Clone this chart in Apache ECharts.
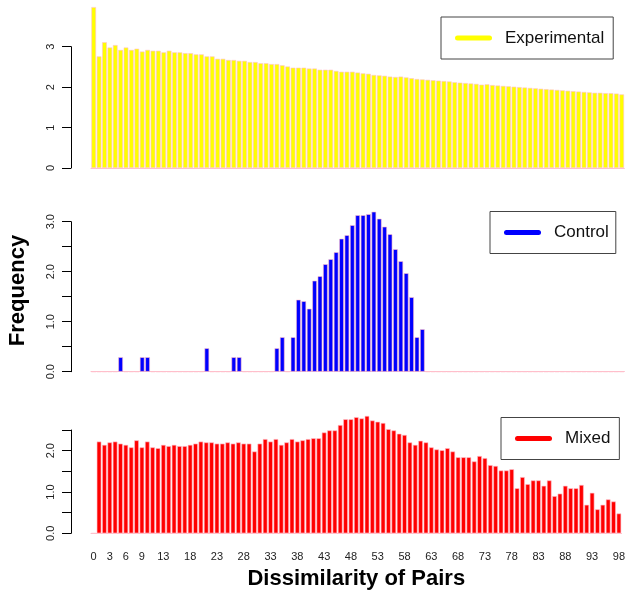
<!DOCTYPE html>
<html>
<head>
<meta charset="utf-8">
<script src="https://cdn.jsdelivr.net/npm/echarts@6/dist/echarts.min.js"></script>
<style>
html,body{margin:0;padding:0;background:#fff;}
#chart{width:628px;height:595px;}
</style>
</head>
<body>
<div id="chart"></div>
<script>
// ---------- DATA ----------
const categories = ['0','1','2','3','4','5','6','7','8','9','10','11','12','13','14','15','16','17','18','19',
  '20','21','22','23','24','25','26','27','28','29','30','31','32','33','34','35','36','37','38','39',
  '40','41','42','43','44','45','46','47','48','49','50','51','52','53','54','55','56','57','58','59',
  '60','61','62','63','64','65','66','67','68','69','70','71','72','73','74','75','76','77','78','79',
  '80','81','82','83','84','85','86','87','88','89','90','91','92','93','94','95','96','97','98'];

const xTickLabels = ['0','3','6','9','13','18','23','28','33','38','43','48','53','58','63','68','73','78','83','88','93','98'];

const experimental = [3.98,2.76,3.11,2.98,3.04,2.92,2.98,2.92,2.95,2.88,
  2.92,2.90,2.90,2.86,2.90,2.86,2.86,2.84,2.84,2.81,
  2.81,2.76,2.76,2.70,2.70,2.67,2.67,2.65,2.65,2.62,
  2.62,2.59,2.59,2.57,2.57,2.54,2.51,2.48,2.48,2.48,
  2.46,2.46,2.43,2.43,2.43,2.40,2.38,2.38,2.38,2.36,
  2.34,2.33,2.30,2.29,2.28,2.26,2.25,2.26,2.24,2.22,
  2.20,2.19,2.18,2.17,2.16,2.15,2.14,2.12,2.11,2.10,
  2.09,2.08,2.06,2.07,2.05,2.04,2.03,2.02,2.01,2.00,
  1.99,1.98,1.97,1.96,1.95,1.94,1.93,1.92,1.91,1.90,
  1.89,1.88,1.87,1.86,1.86,1.85,1.85,1.84,1.82];

const control = [0,0,0,0,0,0.29,0,0,0,0.29,
  0.29,0,0,0,0,0,0,0,0,0,
  0,0.47,0,0,0,0,0.29,0.29,0,0,
  0,0,0,0,0.47,0.69,0,0.69,1.44,1.41,
  1.26,1.82,1.91,2.15,2.25,2.39,2.66,2.73,2.93,3.13,
  3.13,3.15,3.20,3.06,2.90,2.75,2.45,2.21,1.97,1.49,
  0.69,0.85,0,0,0,0,0,0,0,0,
  0,0,0,0,0,0,0,0,0,0,
  0,0,0,0,0,0,0,0,0,0,
  0,0,0,0,0,0,0,0,0];

const mixed = [0,2.22,2.14,2.20,2.22,2.17,2.14,2.08,2.25,2.08,
  2.22,2.08,2.06,2.14,2.11,2.14,2.11,2.11,2.14,2.17,
  2.22,2.20,2.20,2.17,2.17,2.20,2.17,2.20,2.17,2.17,
  1.98,2.17,2.28,2.22,2.28,2.14,2.20,2.28,2.22,2.25,
  2.28,2.30,2.30,2.44,2.49,2.49,2.62,2.76,2.76,2.81,
  2.78,2.84,2.73,2.70,2.67,2.52,2.49,2.41,2.38,2.20,
  2.14,2.24,2.20,2.08,2.03,2.01,2.06,1.98,1.84,1.84,
  1.84,1.74,1.87,1.82,1.65,1.63,1.52,1.52,1.55,1.09,
  1.36,1.19,1.28,1.28,1.15,1.28,0.90,0.96,1.15,1.09,
  1.09,1.17,0.69,0.98,0.58,0.69,0.82,0.77,0.48];

const seriesNames = ['Experimental','Control','Mixed'];
const seriesColors = ['#FFFF00','#0000FF','#FF0000'];

// ---------- CHART ----------
const FONT = 'Liberation Sans, Arial, Helvetica, sans-serif';
const chart = echarts.init(document.getElementById('chart'), null, {renderer:'canvas'});

const grids = [
  {left:91, width:533.4, top:46.7, height:121.3},
  {left:91, width:533.4, top:221.7, height:150},
  {left:91, width:533.4, top:430, height:103.3}
];

function xAxisFor(i){
  const isBottom = i === 2;
  return {
    type:'category', gridIndex:i, data:categories, boundaryGap:true,
    axisLine:{show:true, lineStyle:{color:'#FFC0CB', width:1}},
    axisTick:{show:false},
    axisLabel:{
      show:isBottom, margin:18, fontSize:11, color:'#222', fontFamily:FONT,
      interval:function(idx, val){ return xTickLabels.indexOf(val) >= 0; }
    },
    name: isBottom ? 'Dissimilarity of Pairs' : '',
    nameLocation:'middle', nameGap:35,
    nameTextStyle:{fontSize:22, fontWeight:'bold', color:'#000', fontFamily:FONT}
  };
}

function yAxisFor(i, max, interval, decimals){
  return {
    type:'value', gridIndex:i, min:0, max:max, interval:interval, offset:20,
    splitLine:{show:false},
    axisLine:{show:true, lineStyle:{color:'#000', width:1}},
    axisTick:{show:true, length:9, lineStyle:{color:'#000', width:1}},
    axisLabel:{
      rotate:90, margin:15, fontSize:11, color:'#222', fontFamily:FONT,
      formatter:function(v){
        if (Math.abs(v - Math.round(v)) > 1e-6) return '';
        return v.toFixed(decimals);
      }
    }
  };
}

function legendFor(i, left, top, pad){
  return {
    data:[seriesNames[i]], left:left, top:top, orient:'horizontal',
    borderColor:'#444', borderWidth:1, borderRadius:0,
    padding:pad, itemWidth:37, itemHeight:5, selectedMode:false,
    icon:'path://M2.5,0 L34.5,0 A2.5,2.5 0 0 1 34.5,5 L2.5,5 A2.5,2.5 0 0 1 2.5,0 Z',
    itemStyle:{borderWidth:0, color:seriesColors[i]},
    textStyle:{fontSize:17, color:'#111', fontFamily:FONT, lineHeight:20, padding:[0,0,0,8]}
  };
}

const dataSets = [experimental, control, mixed];

const option = {
  animation:false,
  backgroundColor:'#fff',
  grid:grids,
  xAxis:[xAxisFor(0), xAxisFor(1), xAxisFor(2)],
  yAxis:[yAxisFor(0, 3, 1, 0), yAxisFor(1, 3, 0.5, 1), yAxisFor(2, 2.5, 0.5, 1)],
  legend:[
    legendFor(0, 441, 17, [11, 9, 11, 14]),
    legendFor(1, 490, 211.5, [11, 7, 11, 14]),
    legendFor(2, 501, 417.5, [11, 9, 11, 14])
  ],
  graphic:[{
    type:'text', x:18, y:290.5, rotation:Math.PI/2,
    style:{text:'Frequency', font:'bold 22px ' + FONT, fill:'#000', align:'center', verticalAlign:'middle'}
  }],
  series:dataSets.map(function(d, i){
    return {
      type:'bar', name:seriesNames[i], xAxisIndex:i, yAxisIndex:i,
      data:d, clip:false, barWidth:'86%',
      itemStyle:{color:seriesColors[i], borderColor:'#FFC0CB', borderWidth:0.6},
      emphasis:{disabled:true}
    };
  })
};
chart.setOption(option);
</script>
</body>
</html>
